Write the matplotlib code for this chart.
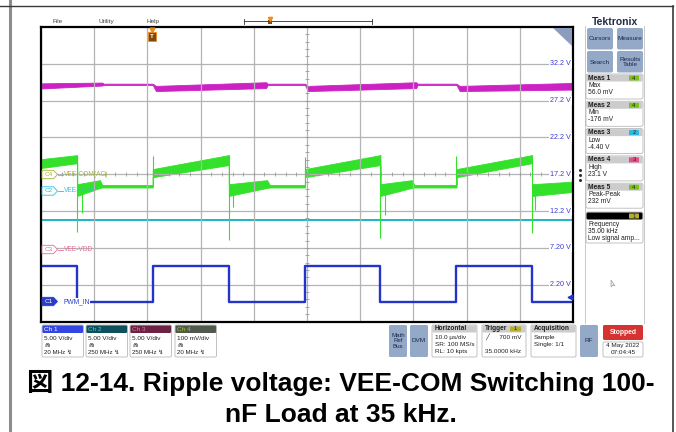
import numpy as np
import matplotlib
matplotlib.use("Agg")
import matplotlib.pyplot as plt
from matplotlib.patches import FancyBboxPatch, Polygon

plt.rcParams['font.family'] = ['Liberation Sans', 'DejaVu Sans']

# time in us (10 us/div), level in screen divisions (0 = bottom, 8 = top)
# Ch1 PWM_IN
t_pwm = [0, 6.8, 6.8, 21.0, 21.0, 35.3, 35.3, 49.6, 49.6, 63.8, 63.8, 78.1, 78.1, 92.3, 92.3, 100]
v_pwm = [1.50, 1.50, 0.53, 0.53, 1.50, 1.50, 0.53, 0.53, 1.50, 1.50, 0.53, 0.53, 1.50, 1.50, 0.53, 0.53]

# Ch4 VEE-COM(AC) ripple, noise envelope
t_rip = [0, 6.8, 6.8, 11.1, 11.5, 21.0, 21.0, 35.3, 35.3, 42.5, 43.0, 49.6, 49.6,
         63.8, 63.8, 69.7, 70.2, 78.1, 78.1, 92.3, 92.3, 100]
rip_lo = [4.17, 4.30, 3.41, 3.63, 3.64, 3.64, 3.92, 4.25, 3.41, 3.63, 3.64, 3.64, 3.92,
          4.25, 3.41, 3.63, 3.64, 3.64, 3.92, 4.30, 3.41, 3.52]
rip_hi = [4.41, 4.52, 3.73, 3.84, 3.71, 3.71, 4.14, 4.52, 3.73, 3.84, 3.71, 3.71, 4.14,
          4.52, 3.73, 3.84, 3.71, 3.71, 4.14, 4.52, 3.73, 3.80]
# switching spikes on Ch4
spk_t = [6.8, 7.7, 21.0, 35.3, 36.1, 49.6, 63.8, 64.7, 78.1, 92.3, 92.9]
spk_lo = [2.43, 2.95, 3.68, 2.21, 3.11, 3.68, 2.27, 2.89, 3.68, 2.40, 3.03]
spk_hi = [4.50, 3.60, 4.50, 4.52, 3.60, 4.47, 4.52, 3.60, 4.50, 4.52, 3.60]

# Ch2 VEE-COM
t_com = [0, 100]
com_lo = [2.725, 2.725]
com_hi = [2.785, 2.785]

# Ch3 VEE-VDD
t_vdd = [0, 11.5, 11.8, 21.0, 21.6, 42.3, 42.6, 49.6, 50.2, 70.5, 70.8, 78.1, 78.7, 100]
vdd_lo = [6.33, 6.41, 6.425, 6.425, 6.26, 6.34, 6.425, 6.425, 6.26, 6.34, 6.425, 6.425, 6.26, 6.30]
vdd_hi = [6.47, 6.49, 6.46, 6.46, 6.40, 6.50, 6.46, 6.46, 6.40, 6.50, 6.46, 6.46, 6.40, 6.48]

grid_y = [1, 2, 3, 4, 5, 6, 7]
grid_lab = ["2.20 V", "7.20 V", "12.2 V", "17.2 V", "22.2 V", "27.2 V", "32.2 V"]

ch_names = ["Ch 1", "Ch 2", "Ch 3", "Ch 4"]
ch_scale = ["5.00 V/div", "5.00 V/div", "5.00 V/div", "100 mV/div"]
ch_bw = ["20 MHz \u21af", "250 MHz \u21af", "250 MHz \u21af", "20 MHz \u21af"]

meas_title = ["Meas 1", "Meas 2", "Meas 3", "Meas 4", "Meas 5"]
meas_kind = ["Max", "Min", "Low", "High", "Peak-Peak"]
meas_val = ["56.0 mV", "-176 mV", "-4.40 V", "23.1 V", "232 mV"]
meas_src = ["4", "4", "2", "3", "4"]

c_pwm = '#2434c8'
c_rip = '#33e02a'
c_com = '#22b8c8'
c_vdd = '#cc22c4'
src_col = {"1": '#b4ae30', "2": '#2cb8e0', "3": '#e0508a', "4": '#7cc21e'}
btn = '#94a8c8'

W, H = 676, 432
fig = plt.figure(figsize=(6.76, 4.32), dpi=100)
ax = fig.add_axes([41 / W, 1 - 321.5 / H, 532 / W, 294.5 / H], zorder=1)
ui = fig.add_axes([0, 0, 1, 1], zorder=2)
ui.set_xlim(0, W)
ui.set_ylim(H, 0)
ui.axis('off')

# ---- scope graticule
ax.set_xlim(0, 100)
ax.set_ylim(0, 8)
ax.set_xticks(np.arange(0, 101, 10))
ax.set_yticks(grid_y)
ax.grid(True, color='#b4b4b4', lw=0.9)
ax.tick_params(length=0, labelbottom=False, labelleft=False)
for s in ax.spines.values():
    s.set_linewidth(1.6)
    s.set_color('black')
ax.plot(np.arange(2, 100, 2), np.full(49, 4), '|', color='#999999', ms=2.5, mew=0.6)
ax.plot(np.full(39, 50), np.arange(0.2, 8, 0.2), '_', color='#999999', ms=2.5, mew=0.6)
for y, lab in zip(grid_y, grid_lab):
    ax.text(0.996, y, lab, transform=ax.get_yaxis_transform(), ha='right', va='center',
            fontsize=5.2, color='#3c3cd0', bbox=dict(fc='white', ec='none', pad=0.8))

# ---- traces
ax.fill_between(t_vdd, vdd_lo, vdd_hi, color=c_vdd, lw=0.6)
ax.fill_between(t_com, com_lo, com_hi, color=c_com, lw=0)
ax.fill_between(t_rip, rip_lo, rip_hi, color=c_rip, lw=0.6)
ax.vlines(spk_t, spk_lo, spk_hi, color=c_rip, lw=0.8)
ax.plot(t_pwm, v_pwm, color=c_pwm, lw=1.7)


def box(x0, y0, x1, y1, fc, ec='none', r=1.5, lw=0.6, z=3):
    ui.add_patch(FancyBboxPatch((x0, y0), x1 - x0, y1 - y0,
                                boxstyle='round,pad=0,rounding_size=%g' % r,
                                fc=fc, ec=ec, lw=lw, zorder=z))


def txt(x, y, s, size=4.6, color='#202020', **kw):
    ui.text(x, y, s, fontsize=size, color=color, va='center', zorder=5, **kw)


# ---- outer frame
ui.plot([10, 10], [0, H], color='#8c8c8c', lw=2.2)
ui.plot([0, 673], [6, 6], color='#3a3a3a', lw=1)
ui.plot([673, 673], [6, H], color='#3a3a3a', lw=1.2)

# ---- top menu and timeline
for x, s in zip([58, 106, 153], ["File", "Utility", "Help"]):
    txt(x, 21.5, s, size=4.6, color='#404040', ha='center')
ui.plot([244, 372], [21, 21], color='#303030', lw=0.6)
ui.plot([244, 244], [18.5, 23.5], color='#303030', lw=0.6)
ui.plot([372, 372], [18.5, 23.5], color='#303030', lw=0.6)
ui.plot([270], [18.5], 'v', color='#f08a18', ms=3)
ui.add_patch(FancyBboxPatch((268.3, 20), 3.4, 3.5, boxstyle='square,pad=0', fc='#7a4a10', ec='none'))
# trigger position marker
ui.plot([152], [29.5], 'v', color='#f08a18', ms=3.5)
ui.add_patch(FancyBboxPatch((148, 31.5), 8, 9, boxstyle='square,pad=0', fc='#7a4a10',
                            ec='#f08a18', lw=0.6, zorder=4))
txt(152, 36.5, "T", size=4.5, color='white', ha='center', weight='bold')
# zoom corner
ui.add_patch(Polygon([(553, 28), (572, 28), (572, 46)], closed=True, fc='#8c9cbc', ec='none', zorder=4))

# ---- channel tags
tags = [(174.5, "C4", "VEE-COM(AC)", '#a6b628', False),
        (191.0, "C2", "VEE-COM", '#2cc0d6', False),
        (249.5, "C3", "VEE-VDD", '#e0709a', False),
        (301.5, "C1", "PWM_IN", '#2a3ec8', True)]
for y, name, lab, col, filled in tags:
    pts = [(42, y - 4.2), (53.5, y - 4.2), (57.5, y), (53.5, y + 4.2), (42, y + 4.2)]
    ui.add_patch(Polygon(pts, closed=True, fc=col if filled else 'white', ec=col, lw=0.6, zorder=4))
    txt(48.5, y, name, size=4.6, color='white' if filled else col, ha='center')
    if not filled:
        ui.plot([57.5, 63], [y, y], color=col, lw=0.6)
    txt(63.5, y, lab, size=4.8, color=col, ha='left',
        bbox=dict(fc='white', ec='none', pad=0.3) if filled else None)
ui.plot([570], [297], '<', color=c_pwm, ms=3.5)

# ---- right panel
txt(615, 22, "Tektronix", size=7.5, color='#1e2a48', ha='center', weight='bold')
ui.plot([585, 585], [26, 323], color='#c8c8c8', lw=0.7)
ui.plot([644, 644], [26, 323], color='#c8c8c8', lw=0.7)
for (x0, y0, s) in [(587, 28, "Cursors"), (617, 28, "Measure"), (587, 51, "Search"), (617, 51, "Results\nTable")]:
    box(x0, y0, x0 + 26, y0 + 21.5, btn, r=2)
    txt(x0 + 13, y0 + 11, s, size=4.6, color='#1a2848', ha='center', linespacing=0.95)
for i in range(5):
    y0 = 74 + 27.3 * i
    box(586, y0, 643, y0 + 25, 'white', ec='#b8b8b8', r=2)
    box(586.5, y0 + 0.5, 642.5, y0 + 7.5, '#cccccc', r=1.5)
    txt(588.5, y0 + 4, meas_title[i], size=4.8, color='#202020', weight='bold')
    box(629, y0 + 1.5, 639, y0 + 6.5, src_col[meas_src[i]], r=0.3, z=4)
    txt(634, y0 + 4, meas_src[i], size=4.2, color='#202020', ha='center')
    txt(588.5, y0 + 11.5, meas_kind[i], size=4.8)
    txt(588.5, y0 + 18.5, meas_val[i], size=4.8)
box(586, 212, 643, 243, 'white', ec='#b8b8b8', r=2)
box(586.5, 212.5, 642.5, 219.5, 'black', r=1.5)
box(629, 213.5, 639, 218.5, src_col["1"], r=0.3, z=4)
txt(634, 216, "1", size=4.2, color='#202020', ha='center')
txt(588.5, 224.5, "Frequency", size=4.8)
txt(588.5, 231.5, "35.00 kHz", size=4.8)
txt(588.5, 238.5, "Low signal amp...", size=4.8)
ui.plot([580, 580, 580], [170, 175, 180], 'o', color='#303030', ms=1.2)
ui.add_patch(Polygon([(611, 280), (611, 287), (613, 285), (615, 286)], closed=True,
                     fc='#e8e8e8', ec='#909090', lw=0.4, zorder=4))

# ---- bottom channel strip
ch_x = [42, 86, 130, 175]
hdr = ['#3446e0', '#0e4f5c', '#6b2245', '#4f5a4c']
hdr_txt = ['white', '#44d0e0', '#e87aa2', '#a8c040']
for x0, n, sc, bw, hc, tc in zip(ch_x, ch_names, ch_scale, ch_bw, hdr, hdr_txt):
    box(x0, 325, x0 + 41.5, 357, 'white', ec='#b8b8b8', r=1.5)
    box(x0 + 0.4, 325.4, x0 + 41.1, 333, hc, r=1.2)
    txt(x0 + 2, 329.2, n, size=4.6, color=tc)
    txt(x0 + 2, 338.5, sc, size=4.6)
    txt(x0 + 2, 345.2, "\u22d2", size=4.6)
    txt(x0 + 2, 352, bw, size=4.4)

box(389, 325, 407, 357, btn, r=1.5)
txt(398, 341, "Math\nRef\nBus", size=4.4, color='#1a2848', ha='center', linespacing=1.1)
box(410, 325, 428, 357, btn, r=1.5)
ui.plot([413, 425], [328, 328], color='#3c4c6c', lw=0.6)
txt(419, 341, "DVM", size=4.6, color='#1a2848', ha='center')
info = [(432, 477, "Horizontal", ["10.0 \u00b5s/div", "SR: 100 MS/s", "RL: 10 kpts"]),
        (482, 526, "Trigger", ["\u2571      700 mV", "", "35.0000 kHz"]),
        (531, 576, "Acquisition", ["Sample", "Single: 1/1", ""])]
for x0, x1, head, lines in info:
    box(x0, 325, x1, 357, 'white', ec='#b8b8b8', r=1.5)
    box(x0 + 0.4, 325.4, x1 - 0.4, 332.5, '#cccccc', r=1.2)
    txt(x0 + 2.5, 329, head, size=4.7, weight='bold')
    for k, s in enumerate(lines):
        txt(x0 + 3, 337.5 + 7 * k, s, size=4.6)
box(510, 326.5, 521, 331.5, src_col["1"], r=0.3, z=4)
txt(515.5, 329, "1", size=4.2, ha='center')
box(580, 325, 598, 357, btn, r=1.5)
ui.plot([583, 595], [327.5, 327.5], color='#e8782a', lw=0.7)
txt(589, 341, "RF", size=4.6, color='#1a2848', ha='center')
box(603, 325, 643, 340, '#d63232', r=1.5)
txt(623, 332.5, "Stopped", size=4.9, color='white', ha='center', weight='bold')
box(603, 342, 643, 357, 'white', ec='#b8b8b8', r=1.5)
txt(623, 346, "4 May 2022", size=4.6, ha='center')
txt(623, 352.5, "07:04:45", size=4.6, ha='center')

# ---- caption
cap_font = ['Liberation Sans', 'Noto Sans CJK JP']
ui.text(341, 391, "\u56f3 12-14. Ripple voltage: VEE-COM Switching 100-", fontsize=19,
        weight='bold', ha='center', va='baseline', family=cap_font)
ui.text(341, 422, "nF Load at 35 kHz.", fontsize=19, weight='bold', ha='center',
        va='baseline', family=cap_font)

fig.savefig('out.png', dpi=100)
